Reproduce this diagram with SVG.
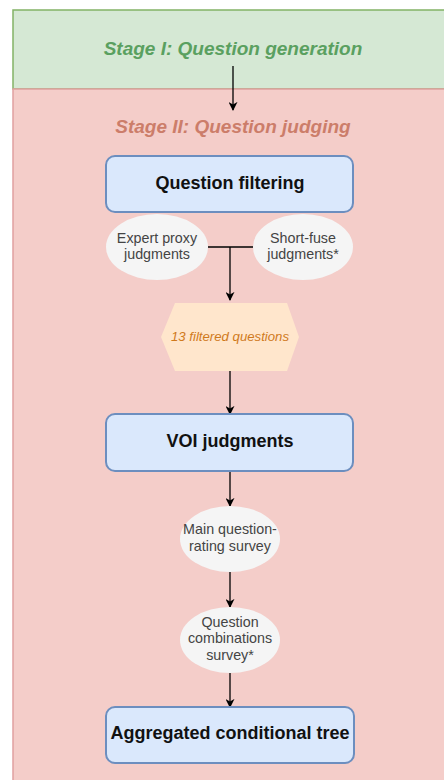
<svg xmlns="http://www.w3.org/2000/svg" width="444" height="780" viewBox="0 0 444 780">
  <defs>
    <marker id="arrow" viewBox="0 0 10 10" refX="9" refY="5" markerWidth="9" markerHeight="9" markerUnits="userSpaceOnUse" orient="auto">
      <path d="M0,0 L10,5 L0,10 L3,5 Z" fill="#000"/>
    </marker>
  </defs>
  <style>
    text { font-family: "Liberation Sans", Arial, sans-serif; text-anchor: middle; }
    .stage { font-size: 19px; font-weight: bold; font-style: italic; }
    .box { fill: #dae8fc; stroke: #6c8ebf; stroke-width: 2; }
    .boxtxt { font-size: 18px; font-weight: bold; fill: #111; }
    .oval { fill: #f5f5f5; stroke: none; }
    .ovaltxt { font-size: 14.3px; fill: #444; }
    .edge { fill: none; stroke: #000; stroke-width: 1.3; }
  </style>

  <!-- swimlane backgrounds -->
  <g id="stage-1">
    <rect x="13" y="10" width="440" height="79" fill="#d5e8d4" stroke="#82b366" stroke-width="1.5"/>
    <text class="stage" x="233" y="55" fill="#5aa060">Stage I: Question generation</text>
  </g>
  <g id="stage-2">
    <rect x="13" y="89" width="440" height="700" fill="#f4cdc9" stroke="#e0a0a0" stroke-width="1.5"/>
    <text class="stage" x="233" y="133" fill="#cc7d6a">Stage II: Question judging</text>
  </g>

  <!-- connectors -->
  <g id="connectors">
    <line class="edge" x1="233" y1="66" x2="233" y2="110" marker-end="url(#arrow)"/>
    <line class="edge" x1="208" y1="247" x2="253" y2="247"/>
    <line class="edge" x1="230" y1="247" x2="230" y2="300" marker-end="url(#arrow)"/>
    <line class="edge" x1="230" y1="371" x2="230" y2="414" marker-end="url(#arrow)"/>
    <line class="edge" x1="230" y1="471" x2="230" y2="506" marker-end="url(#arrow)"/>
    <line class="edge" x1="230" y1="572" x2="230" y2="607" marker-end="url(#arrow)"/>
    <line class="edge" x1="230" y1="673" x2="230" y2="707" marker-end="url(#arrow)"/>
  </g>

  <g id="question-filtering">
    <rect class="box" x="106" y="156" width="247" height="56" rx="9"/>
    <text class="boxtxt" x="230" y="189">Question filtering</text>
  </g>

  <g id="expert-proxy">
    <ellipse class="oval" cx="157" cy="247" rx="51" ry="33"/>
    <text class="ovaltxt" x="157" y="243">Expert proxy</text>
    <text class="ovaltxt" x="157" y="259">judgments</text>
  </g>

  <g id="short-fuse">
    <ellipse class="oval" cx="303" cy="247" rx="50" ry="33"/>
    <text class="ovaltxt" x="303" y="243">Short-fuse</text>
    <text class="ovaltxt" x="303" y="259">judgments*</text>
  </g>

  <g id="filtered-questions">
    <polygon points="161,337 175,303 287,303 299,337 287,371 175,371" fill="#ffe6cc"/>
    <text x="230" y="341" font-size="13.2" font-style="italic" fill="#d07a1c">13 filtered questions</text>
  </g>

  <g id="voi-judgments">
    <rect class="box" x="106" y="414" width="247" height="57" rx="9"/>
    <text class="boxtxt" x="230" y="447">VOI judgments</text>
  </g>

  <g id="rating-survey">
    <ellipse class="oval" cx="230" cy="539" rx="50" ry="33"/>
    <text class="ovaltxt" x="230" y="534">Main question-</text>
    <text class="ovaltxt" x="230" y="551">rating survey</text>
  </g>

  <g id="combinations-survey">
    <ellipse class="oval" cx="230" cy="640" rx="50" ry="33"/>
    <text class="ovaltxt" x="230" y="627">Question</text>
    <text class="ovaltxt" x="230" y="643">combinations</text>
    <text class="ovaltxt" x="230" y="660">survey*</text>
  </g>

  <g id="conditional-tree">
    <rect class="box" x="106" y="707" width="248" height="56" rx="9"/>
    <text class="boxtxt" x="230" y="739">Aggregated conditional tree</text>
  </g>
</svg>
